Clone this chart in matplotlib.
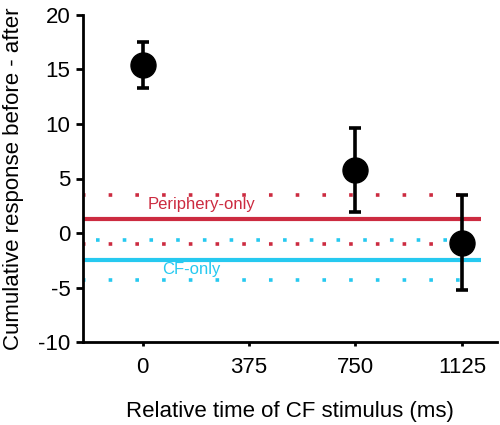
import matplotlib
matplotlib.use("Agg")
import matplotlib.pyplot as plt

plt.rcParams['font.family'] = ['Liberation Sans', 'DejaVu Sans']
plt.rcParams['axes.unicode_minus'] = False

# data
times = [0, 750, 1125]
means = [15.4, 5.8, -0.9]
err_low = [13.3, 1.95, -5.2]
err_high = [17.5, 9.65, 3.5]

periph_mean = 1.26
periph_band = [3.47, -0.96]
cf_mean = -2.5
cf_band = [-0.6, -4.3]

xticks = [0, 375, 750, 1125]
yticks = [-10, -5, 0, 5, 10, 15, 20]

red = '#CC2B40'
cyan = '#26C9F0'

fig = plt.figure(figsize=(5, 4.25), dpi=100)
ax = fig.add_axes([0.166, 0.195, 0.828, 0.77])

x0, x1 = -210, 1193
ax.plot([x0, x1], [periph_mean] * 2, color=red, lw=3.0, solid_capstyle='butt', zorder=2)
for yv in periph_band:
    ax.plot([x0, x1], [yv] * 2, color=red, lw=2.6, linestyle=(0.3, (1, 6.4)),
            dash_capstyle='butt', zorder=2)
ax.plot([x0, x1], [cf_mean] * 2, color=cyan, lw=3.0, solid_capstyle='butt', zorder=2)
ax.plot([x0, x1], [cf_band[0]] * 2, color=cyan, lw=2.6, linestyle=(-3.6, (1, 6.4)),
        dash_capstyle='butt', zorder=2)
ax.plot([x0, x1], [cf_band[1]] * 2, color=cyan, lw=2.6, linestyle=(0.3, (1, 6.4)),
        dash_capstyle='butt', zorder=2)

yerr = [[m - lo for m, lo in zip(means, err_low)], [hi - m for m, hi in zip(means, err_high)]]
ax.errorbar(times, means, yerr=yerr, fmt='o', color='black', ms=18, elinewidth=2.6,
            capsize=4, capthick=2.6, zorder=3)

ax.text(209, 2.65, 'Periphery-only', color=red, fontsize=12, ha='center', va='center')
ax.text(173, -3.3, 'CF-only', color=cyan, fontsize=12, ha='center', va='center')

ax.set_xlim(-210, 1249)
ax.set_ylim(-10, 20)
ax.set_xticks(xticks)
ax.set_yticks(yticks)
ax.tick_params(axis='y', labelsize=16, width=2, length=5, pad=4)
ax.tick_params(axis='x', labelsize=16, width=2, length=3, pad=8)
for s in ['top', 'right']:
    ax.spines[s].set_visible(False)
for s in ['left', 'bottom']:
    ax.spines[s].set_linewidth(2)
ax.set_xlabel('Relative time of CF stimulus (ms)', fontsize=16, labelpad=16)
ax.set_ylabel('Cumulative response before - after', fontsize=16, labelpad=10)

fig.savefig('out.png', dpi=100)
